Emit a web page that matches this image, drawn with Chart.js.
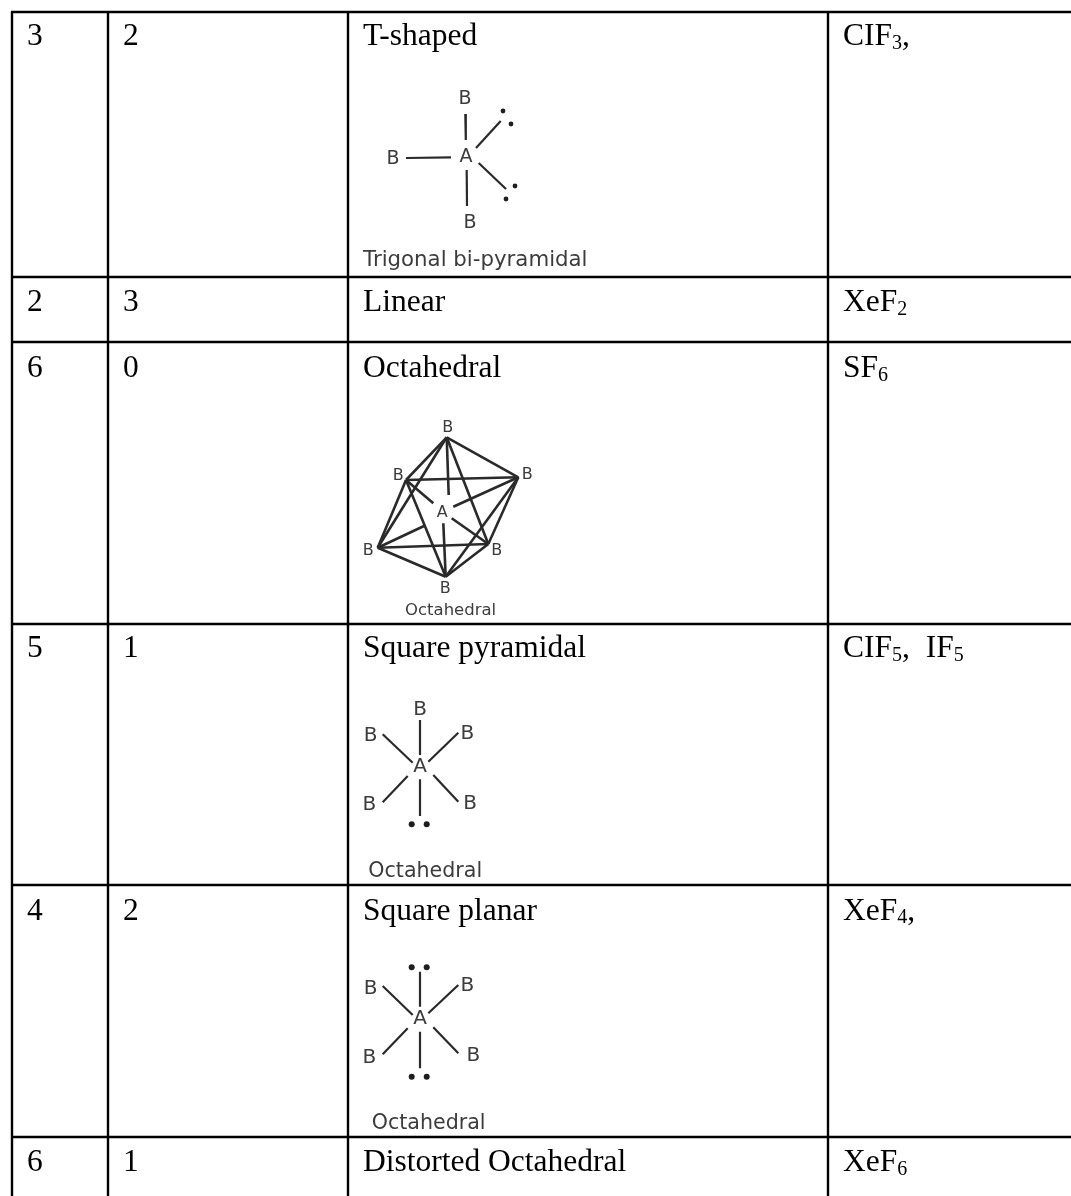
<!DOCTYPE html>
<html>
<head>
<meta charset="utf-8">
<title>Molecular shapes</title>
<script src="https://cdn.jsdelivr.net/npm/chart.js@4"></script>
<style>
  html, body { margin: 0; padding: 0; background: #fff; }
  canvas { display: block; }
</style>
</head>
<body>
<canvas id="chart" width="1071" height="1196"></canvas>
<script>
// table contents, one entry per row
const bondPairs = ['3', '2', '6', '5', '4', '6'];
const lonePairs = ['2', '3', '0', '1', '2', '1'];
const shapes = ['T-shaped', 'Linear', 'Octahedral', 'Square pyramidal', 'Square planar', 'Distorted Octahedral'];
// [text, isSubscript]
const examples = [
  [['CIF', 0], ['3', 1], [',', 0]],
  [['XeF', 0], ['2', 1]],
  [['SF', 0], ['6', 1]],
  [['CIF', 0], ['5', 1], [',  IF', 0], ['5', 1]],
  [['XeF', 0], ['4', 1], [',', 0]],
  [['XeF', 0], ['6', 1]]
];

// rules of the table, read in page pixels
const rowLines = [12, 277, 342, 624, 885, 1137];
const rowBaselines = [45, 311, 377, 657, 919.5, 1171];
const colLines = [12, 108, 348, 828];

// sketch bonds [x1, y1, x2, y2]
const tShapedBonds = [
  [465.3, 114, 465.8, 140], [406, 158, 451, 157.3], [476, 148, 500.7, 121],
  [478.7, 163, 506, 189], [466.7, 170, 467, 206]
];
const octahedralBonds = [
  [446.7, 437.3, 406, 480], [446.7, 437.3, 377.7, 547.7], [446.7, 437.3, 518.3, 477.3],
  [446.7, 437.3, 488.3, 544], [446.7, 437.3, 448.7, 495], [406, 480, 518.3, 477.3],
  [406, 480, 377.7, 547.7], [406, 480, 445.7, 576.7], [406, 480, 433.3, 503.3],
  [518.3, 477.3, 488.3, 544], [518.3, 477.3, 445.7, 576.7], [518.3, 477.3, 453.3, 506.7],
  [377.7, 547.7, 488.3, 544], [377.7, 547.7, 445.7, 576.7], [377.7, 547.7, 424, 526],
  [488.3, 544, 445.7, 576.7], [488.3, 544, 451.7, 518.3], [445.7, 576.7, 443.3, 523.3]
];
const pyramidalBonds = [
  [420, 720, 420, 755], [382.7, 734.3, 412.7, 762.7], [458.3, 732.7, 428.3, 761.7],
  [382.7, 802.3, 407.7, 776], [458.3, 801.7, 433.3, 775], [420, 779.3, 420, 816]
];
const planarBonds = [
  [420, 971.7, 420, 1006.7], [382.7, 986, 412.7, 1015], [458.3, 985, 428.3, 1013.3],
  [382.7, 1054.3, 407.7, 1028.3], [458.3, 1053.3, 433.3, 1027.3], [420, 1031.7, 420, 1068.3]
];
const sketchBonds = [tShapedBonds, octahedralBonds, pyramidalBonds, planarBonds];

// lone pair dots
const tShapedDots = [[503, 111], [511, 124], [515, 186], [506, 199]];
const squareDots = [
  [411.7, 824.3], [426.7, 824.3],
  [411.7, 967.3], [426.7, 967.3], [411.7, 1076.7], [426.7, 1076.7]
];

// sketch atom letters [letter, x, y]
const tShapedAtoms = [['B', 465, 99], ['A', 466, 157], ['B', 393, 159], ['B', 470, 223]];
const octahedralAtoms = [
  ['B', 447.7, 428.3], ['B', 398.3, 476], ['B', 527.3, 475.3], ['B', 368.3, 550.7],
  ['B', 496.7, 550.7], ['B', 445.3, 589.3], ['A', 442.3, 513.3]
];
const pyramidalAtoms = [
  ['B', 420, 710], ['A', 420, 766.7], ['B', 370.7, 736], ['B', 467.3, 733.3],
  ['B', 369.3, 805], ['B', 470, 804]
];
const planarAtoms = [
  ['A', 420, 1019], ['B', 370.7, 988.3], ['B', 467.3, 986], ['B', 369.3, 1057.3], ['B', 473.3, 1055.7]
];
const sketchAtoms = [tShapedAtoms, octahedralAtoms, pyramidalAtoms, planarAtoms];

// sketch captions [text, left x, baseline y]
const captions = [
  ['Trigonal bi-pyramidal', 363, 266],
  ['Octahedral', 405, 615],
  ['Octahedral', 368.3, 877.3],
  ['Octahedral', 371.7, 1129.3]
];

const SERIF = '"Liberation Serif", "Times New Roman", serif';
const SANS = '"DejaVu Sans", sans-serif';
const atomFontSizes = [19, 16, 20, 20];
const captionFontSizes = [21.3, 16.5, 20.6, 20.6];
const bondWidths = [2.2, 2.6, 2.2, 2.2];

function lineSet(p1, p2, color, width) {
  return {
    data: [{ x: p1[0], y: p1[1] }, { x: p2[0], y: p2[1] }],
    showLine: true,
    borderColor: color,
    borderWidth: width,
    pointRadius: 0,
    borderCapStyle: 'butt'
  };
}

function dotSet(points, radius) {
  return {
    data: points.map(function(d) { return { x: d[0], y: d[1] }; }),
    showLine: false,
    pointRadius: radius,
    pointBackgroundColor: '#1e1e1e',
    pointBorderWidth: 0
  };
}

const datasets = [];
rowLines.forEach(function(y) {
  datasets.push(lineSet([colLines[0] - 1, y], [1071, y], '#000', 2.4));
});
colLines.forEach(function(x) {
  datasets.push(lineSet([x, rowLines[0]], [x, 1196], '#000', 2.4));
});
sketchBonds.forEach(function(bonds, i) {
  bonds.forEach(function(b) {
    datasets.push(lineSet([b[0], b[1]], [b[2], b[3]], '#2a2a2a', bondWidths[i]));
  });
});
datasets.push(dotSet(tShapedDots, 2.4));
datasets.push(dotSet(squareDots, 3));

// all the words go through the scales too
const tableText = {
  id: 'tableText',
  afterDatasetsDraw(chart) {
    const ctx = chart.ctx;
    const sx = chart.scales.x;
    const sy = chart.scales.y;
    ctx.save();
    ctx.textBaseline = 'alphabetic';

    ctx.fillStyle = '#000';
    rowBaselines.forEach(function(y, i) {
      const base = sy.getPixelForValue(y);
      ctx.textAlign = 'left';
      ctx.font = '31.5px ' + SERIF;
      ctx.fillText(bondPairs[i], sx.getPixelForValue(27), base);
      ctx.fillText(lonePairs[i], sx.getPixelForValue(123), base);
      ctx.fillText(shapes[i], sx.getPixelForValue(363), base);
      let x = sx.getPixelForValue(843);
      examples[i].forEach(function(run) {
        ctx.font = (run[1] ? '20px ' : '31.5px ') + SERIF;
        ctx.fillText(run[0], x, base + (run[1] ? 3.5 : 0));
        x += ctx.measureText(run[0]).width;
      });
    });

    ctx.fillStyle = '#3c3c3c';
    ctx.textAlign = 'center';
    ctx.textBaseline = 'middle';
    sketchAtoms.forEach(function(atoms, i) {
      ctx.font = atomFontSizes[i] + 'px ' + SANS;
      atoms.forEach(function(a) {
        ctx.fillText(a[0], sx.getPixelForValue(a[1]), sy.getPixelForValue(a[2]));
      });
    });
    ctx.textAlign = 'left';
    ctx.textBaseline = 'alphabetic';
    captions.forEach(function(c, i) {
      ctx.font = captionFontSizes[i] + 'px ' + SANS;
      ctx.fillText(c[0], sx.getPixelForValue(c[1]), sy.getPixelForValue(c[2]));
    });
    ctx.restore();
  }
};

new Chart(document.getElementById('chart').getContext('2d'), {
  type: 'scatter',
  data: { datasets: datasets },
  plugins: [tableText],
  options: {
    responsive: false,
    animation: false,
    layout: { padding: 0, autoPadding: false },
    plugins: { legend: { display: false }, tooltip: { enabled: false } },
    scales: {
      x: { type: 'linear', display: false, min: 0, max: 1071 },
      y: { type: 'linear', display: false, min: 0, max: 1196, reverse: true }
    }
  }
});
</script>
</body>
</html>
